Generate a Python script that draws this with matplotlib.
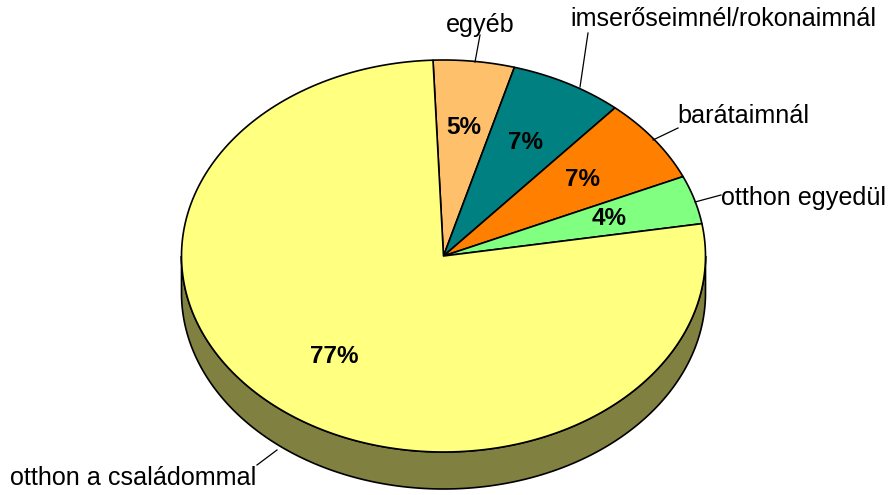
import numpy as np
import matplotlib
matplotlib.use("Agg")
import matplotlib.pyplot as plt
from matplotlib.patches import Polygon

plt.rcParams['font.family'] = ['Liberation Sans', 'DejaVu Sans']

# Data (clockwise from the top)
labels = ["egyéb", "imserőseimnél/rokonaimnál", "barátaimnál", "otthon egyedül", "otthon a családommal"]
values = [5, 7, 7, 4, 77]
colors = ["#FFC06C", "#008080", "#FF8000", "#80FF80", "#FFFF80"]

# 3D pie geometry (pixels)
cx, cy = 443.5, 256
rx, ry = 262, 196
depth = 37
start = -2.3  # degrees clockwise from top


def pts(a0, a1, dy=0, n=200):
    t = np.radians(np.linspace(a0, a1, n))
    return np.column_stack([cx + rx * np.sin(t), cy - ry * np.cos(t) + dy])


fig = plt.figure(figsize=(8.9, 4.95), dpi=100)
ax = fig.add_axes([0, 0, 1, 1])
ax.set_xlim(0, 890)
ax.set_ylim(495, 0)
ax.axis("off")

fracs = np.array(values) / sum(values) * 360
edges = start + np.concatenate([[0], np.cumsum(fracs)])

# side walls (only the front half is visible)
for i, c in enumerate(colors):
    a0, a1 = max(edges[i], 90), min(edges[i + 1], 270)
    if a1 <= a0:
        continue
    top = pts(a0, a1)
    bot = pts(a0, a1, depth)[::-1]
    dark = tuple(v * 0.5 for v in matplotlib.colors.to_rgb(c))
    ax.add_patch(Polygon(np.vstack([top, bot]), closed=True, fc=dark, ec="black", lw=1.2))

# top faces
for i, c in enumerate(colors):
    arc = pts(edges[i], edges[i + 1])
    poly = np.vstack([[cx, cy], arc])
    ax.add_patch(Polygon(poly, closed=True, fc=c, ec="black", lw=1.2, joinstyle="round"))

# percentage labels
for i, v in enumerate(values):
    mid = np.radians((edges[i] + edges[i + 1]) / 2)
    x = cx + 0.66 * rx * np.sin(mid)
    y = cy - 0.66 * ry * np.cos(mid)
    ax.text(x, y, f"{v}%", ha="center", va="center", fontsize=17.5, fontweight="bold")

# category labels with leader lines
label_pos = [(446, 32), (570, 26), (677, 123), (721, 205), (10, 485)]
leaders = [((475, 62), (480, 35)), ((580, 87), (588, 33)), ((653, 140), (678, 128)),
           ((695, 202), (721, 195)), ((277, 450), (257, 465))]
for lab, (x, y), (p0, p1) in zip(labels, label_pos, leaders):
    ax.plot([p0[0], p1[0]], [p0[1], p1[1]], color="black", lw=0.9)
    ax.text(x, y, lab, ha="left", va="baseline", fontsize=18.1)

fig.savefig("out.png", dpi=100)
